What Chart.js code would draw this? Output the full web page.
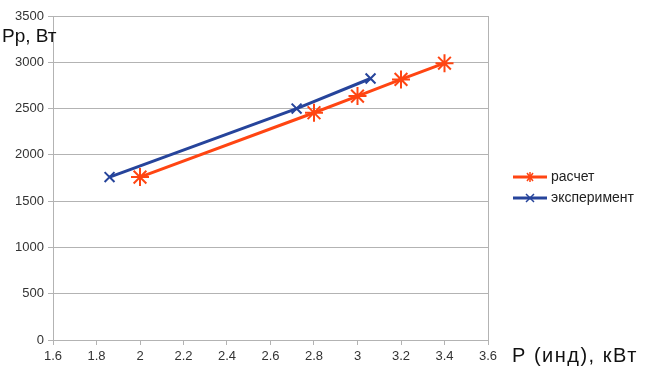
<!DOCTYPE html>
<html>
<head>
<meta charset="utf-8">
<script src="https://cdn.jsdelivr.net/npm/chart.js@4/dist/chart.umd.min.js"></script>
<style>
  html, body { margin: 0; padding: 0; background: #fff; }
  #wrap { width: 651px; height: 378px; }
</style>
</head>
<body>
<div id="wrap"><canvas id="my-chart"></canvas></div>
<script>
const calcP = [2.0, 2.8, 3.0, 3.2, 3.4];
const calcPp = [1760, 2455, 2635, 2815, 2990];
const expP = [1.86, 2.72, 3.06];
const expPp = [1760, 2500, 2825];
const xTitle = 'P (инд), кВт';
const yTitle = 'Pp, Вт';

const toPoints = (xs, ys) => xs.map((x, i) => ({ x: x, y: ys[i] }));

const titles = {
  id: 'titles',
  afterDraw(chart) {
    const c = chart.ctx;
    const area = chart.chartArea;
    const xs = chart.scales.x;
    c.save();
    // right border of plot
    c.strokeStyle = '#b3b3b3';
    c.lineWidth = 1;
    c.beginPath();
    c.moveTo(Math.round(xs.getPixelForValue(3.6)) + 0.5, area.top);
    c.lineTo(Math.round(xs.getPixelForValue(3.6)) + 0.5, area.bottom);
    c.stroke();
    // axis titles
    c.fillStyle = '#111';
    c.font = '19px "Liberation Sans", Arial, sans-serif';
    c.textBaseline = 'alphabetic';
    c.fillText(yTitle, 2, 42);
    c.font = '20px "Liberation Sans", Arial, sans-serif';
    c.letterSpacing = '1.5px';
    c.fillText(xTitle, 512, 362);
    c.letterSpacing = '0px';
    // legend
    c.font = '14px "Liberation Sans", Arial, sans-serif';
    c.textBaseline = 'middle';
    chart.data.datasets.forEach((ds, i) => {
      const y = 177 + i * 21;
      c.strokeStyle = ds.borderColor;
      c.lineWidth = 3;
      c.beginPath();
      c.moveTo(513, y);
      c.lineTo(547, y);
      c.stroke();
      c.lineWidth = 1.5;
      c.beginPath();
      if (ds.pointStyle === 'star') {
        c.moveTo(530, y - 5); c.lineTo(530, y + 5);
        c.moveTo(527, y - 4); c.lineTo(533, y + 4);
        c.moveTo(533, y - 4); c.lineTo(527, y + 4);
      } else {
        c.moveTo(526, y - 4); c.lineTo(534, y + 4);
        c.moveTo(534, y - 4); c.lineTo(526, y + 4);
      }
      c.stroke();
      c.fillStyle = '#222';
      c.fillText(ds.label, 551, y);
    });
    c.restore();
  }
};

const ctx = document.getElementById('my-chart');
const myChart = new Chart(ctx, {
  type: 'scatter',
  data: {
    datasets: [
      {
        label: 'расчет',
        data: toPoints(calcP, calcPp),
        showLine: true,
        borderColor: '#ff4512',
        backgroundColor: '#ff4512',
        borderWidth: 3,
        pointStyle: 'star',
        pointRadius: 9,
        pointBorderWidth: 2
      },
      {
        label: 'эксперимент',
        data: toPoints(expP, expPp),
        showLine: true,
        borderColor: '#26449b',
        backgroundColor: '#26449b',
        borderWidth: 3,
        pointStyle: 'crossRot',
        pointRadius: 7,
        pointBorderWidth: 2
      }
    ]
  },
  options: {
    responsive: true,
    maintainAspectRatio: false,
    animation: false,
    layout: { padding: { top: 16, right: 163, left: 0, bottom: 0 } },
    plugins: {
      legend: { display: false },
      tooltip: { enabled: false }
    },
    scales: {
      x: {
        type: 'linear',
        min: 1.6,
        max: 3.6,
        ticks: {
          stepSize: 0.2,
          color: '#333',
          font: { family: '"Liberation Sans", Arial, sans-serif', size: 13 },
          padding: 4,
          callback: v => String(Math.round(v * 10) / 10)
        },
        grid: { drawOnChartArea: false, color: '#b3b3b3', tickLength: 5 },
        border: { color: '#b3b3b3' },
        afterFit: s => { s.height = 38; }
      },
      y: {
        min: 0,
        max: 3500,
        ticks: {
          stepSize: 500,
          color: '#333',
          font: { family: '"Liberation Sans", Arial, sans-serif', size: 13 },
          padding: 4,
          callback: v => String(v)
        },
        grid: { color: '#b3b3b3', tickLength: 5 },
        border: { color: '#b3b3b3' },
        afterFit: s => { s.width = 53; }
      }
    }
  },
  plugins: [titles]
});
</script>
</body>
</html>
